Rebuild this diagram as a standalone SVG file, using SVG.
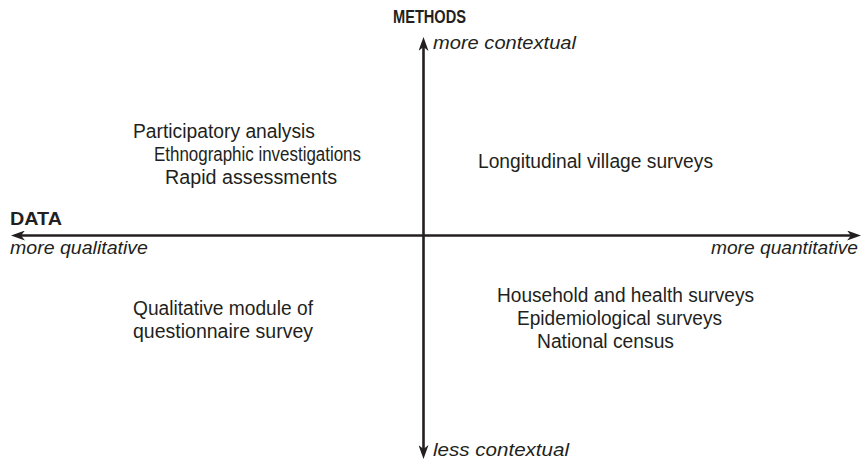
<svg xmlns="http://www.w3.org/2000/svg" width="864" height="464" viewBox="0 0 864 464">
<style>
.lbl{font-family:"Liberation Sans Narrow","Liberation Sans",Arial,sans-serif;font-size:20px;fill:#231f20}
.ttl{font-family:"Liberation Sans Narrow","Liberation Sans",Arial,sans-serif;font-size:19px;font-weight:bold;fill:#231f20}
.dir{font-family:"Liberation Sans Narrow","Liberation Sans",Arial,sans-serif;font-size:18px;font-style:italic;fill:#231f20}
.axis{stroke:#231f20;stroke-width:2.6;fill:none}
</style>
<defs>
<marker id="arr" viewBox="0 0 14 10" refX="4" refY="5" markerWidth="14" markerHeight="10" markerUnits="userSpaceOnUse" orient="auto-start-reverse">
<path d="M0,0 L14,5 L0,10 L4,5 Z" fill="#231f20"/>
</marker>
</defs>
<rect width="864" height="464" fill="#ffffff"/>
<g id="connectors">
<line class="axis" x1="21" y1="235.5" x2="851" y2="235.5" marker-start="url(#arr)" marker-end="url(#arr)"/>
<line class="axis" x1="423.5" y1="47" x2="423.5" y2="449" marker-start="url(#arr)" marker-end="url(#arr)"/>
</g>
<g id="axis-labels">
<text class="ttl" x="393" y="23" textLength="73" lengthAdjust="spacingAndGlyphs">METHODS</text>
<text class="dir" x="433" y="49" textLength="143" lengthAdjust="spacingAndGlyphs">more contextual</text>
<text class="ttl" x="10" y="225" textLength="52" lengthAdjust="spacingAndGlyphs">DATA</text>
<text class="dir" x="10" y="254" textLength="138" lengthAdjust="spacingAndGlyphs">more qualitative</text>
<text class="dir" x="711" y="254" textLength="147" lengthAdjust="spacingAndGlyphs">more quantitative</text>
<text class="dir" x="433" y="456" textLength="136" lengthAdjust="spacingAndGlyphs">less contextual</text>
</g>
<g id="node-contextual-qualitative">
<text class="lbl" x="133" y="138" textLength="182" lengthAdjust="spacingAndGlyphs">Participatory analysis</text>
<text class="lbl" x="154" y="161" textLength="207" lengthAdjust="spacingAndGlyphs">Ethnographic investigations</text>
<text class="lbl" x="165" y="184" textLength="172" lengthAdjust="spacingAndGlyphs">Rapid assessments</text>
</g>
<g id="node-contextual-quantitative">
<text class="lbl" x="478" y="168" textLength="235" lengthAdjust="spacingAndGlyphs">Longitudinal village surveys</text>
</g>
<g id="node-less-contextual-qualitative">
<text class="lbl" x="133" y="315" textLength="180" lengthAdjust="spacingAndGlyphs">Qualitative module of</text>
<text class="lbl" x="133" y="338" textLength="180" lengthAdjust="spacingAndGlyphs">questionnaire survey</text>
</g>
<g id="node-less-contextual-quantitative">
<text class="lbl" x="497" y="302" textLength="257" lengthAdjust="spacingAndGlyphs">Household and health surveys</text>
<text class="lbl" x="517" y="325" textLength="205" lengthAdjust="spacingAndGlyphs">Epidemiological surveys</text>
<text class="lbl" x="537" y="348" textLength="137" lengthAdjust="spacingAndGlyphs">National census</text>
</g>
</svg>
